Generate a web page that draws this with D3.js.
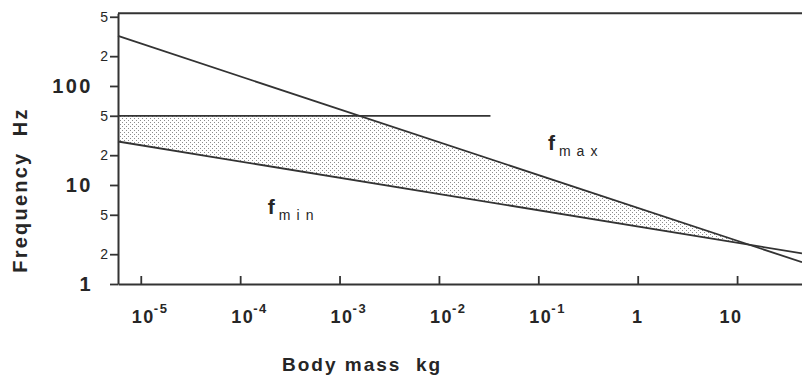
<!DOCTYPE html>
<html>
<head>
<meta charset="utf-8">
<script src="https://cdn.jsdelivr.net/npm/d3@7"></script>
<style>
  html, body { margin: 0; padding: 0; background: #ffffff; }
  svg { display: block; }
  text { font-family: "Liberation Sans", Arial, sans-serif; fill: #262626; }
</style>
</head>
<body>
<svg id="chart" width="802" height="377"></svg>
<script>
// ---- data ----
const massDomain = [5.9e-6, 45];          // kg
const freqDomain = [1, 542];              // Hz
const fmaxSeries = [[5.9e-6, 320], [45, 1.66]];
const fminSeries = [[5.9e-6, 27.5], [45, 2.04]];
const f50Series  = [[5.9e-6, 50], [0.033, 50]];

const xTickValues = [1e-5, 1e-4, 1e-3, 1e-2, 1e-1, 1, 10];
const xTickBase   = ["10", "10", "10", "10", "10", "1", "10"];
const xTickSup    = ["-5", "-4", "-3", "-2", "-1", "", ""];

const yTickValues = [1, 2, 5, 10, 20, 50, 100, 200, 500];
const yTickLabels = ["1", "2", "5", "10", "2", "5", "100", "2", "5"];
const yMajor      = [1, 10, 100];

const xTitle = "Body mass  kg";
const yTitle = "Frequency  Hz";
const labelMax = { base: "f", sub: "max", at: [0.125, 22.6] };
const labelMin = { base: "f", sub: "min", at: [1.9e-4, 5.1] };

// ---- scales ----
const x = d3.scaleLog().domain(massDomain).range([118, 802]);
const y = d3.scaleLog().domain(freqDomain).range([284, 13.3]);

const svg = d3.select("#chart");

// stipple pattern
const defs = svg.append("defs");
const pat = defs.append("pattern").attr("id", "dots")
  .attr("width", 4).attr("height", 4).attr("patternUnits", "userSpaceOnUse");
pat.append("rect").attr("x", 0).attr("y", 0).attr("width", 1).attr("height", 1).attr("fill", "#8c8c8c");
pat.append("rect").attr("x", 2).attr("y", 2).attr("width", 1).attr("height", 1).attr("fill", "#8c8c8c");

// helpers: straight line in log-log coordinates
function logLine(series) {
  const [[m0, f0], [m1, f1]] = series;
  const s = (Math.log10(f1) - Math.log10(f0)) / (Math.log10(m1) - Math.log10(m0));
  return {
    at: m => Math.pow(10, Math.log10(f0) + s * (Math.log10(m) - Math.log10(m0))),
    slope: s, m0, f0
  };
}
const Lmax = logLine(fmaxSeries), Lmin = logLine(fminSeries);
function massWhere(line, f) {
  return Math.pow(10, Math.log10(line.m0) + (Math.log10(f) - Math.log10(line.f0)) / line.slope);
}
const level = f50Series[0][1];
const mCross50 = massWhere(Lmax, level);
// intersection of fmax and fmin
const lm0 = Math.log10(Lmax.m0);
const dL = (Math.log10(Lmax.f0) - Math.log10(Lmin.f0)) / (Lmin.slope - Lmax.slope);
const mInter = Math.pow(10, lm0 + dL);

const mLeft = massDomain[0];
const shade = [
  [mLeft, level],
  [mCross50, level],
  [mInter, Lmax.at(mInter)],
  [mLeft, Lmin.at(mLeft)]
];
svg.append("path")
  .attr("d", d3.line().x(d => x(d[0])).y(d => y(d[1]))(shade) + "Z")
  .attr("fill", "url(#dots)").attr("stroke", "none");

// lines
const line = d3.line().x(d => x(d[0])).y(d => y(d[1]));
[fmaxSeries, fminSeries, f50Series].forEach(s => {
  svg.append("path").attr("d", line(s))
    .attr("fill", "none").attr("stroke", "#333").attr("stroke-width", 1.8);
});

// top frame
svg.append("line")
  .attr("x1", x(massDomain[0])).attr("x2", x(massDomain[1]))
  .attr("y1", y(freqDomain[1])).attr("y2", y(freqDomain[1]))
  .attr("stroke", "#333").attr("stroke-width", 2);

// y axis
const yAxis = svg.append("g").attr("transform", `translate(${x(massDomain[0])},0)`)
  .call(d3.axisLeft(y).tickValues(yTickValues).tickSizeInner(8).tickSizeOuter(0)
    .tickFormat((d, i) => yTickLabels[i]));
yAxis.select(".domain").attr("stroke", "#333").attr("stroke-width", 2);
yAxis.selectAll(".tick line").attr("stroke", "#333").attr("stroke-width", 1.8);
yAxis.selectAll(".tick text").each(function(d) {
  const t = d3.select(this);
  if (yMajor.includes(d)) {
    t.attr("x", -25).attr("font-size", 20).attr("font-weight", "bold")
     .attr("letter-spacing", 2.5).attr("fill", "#222");
  } else {
    t.attr("x", -10).attr("font-size", 14).attr("fill", "#333");
  }
  t.attr("font-family", null);
});

// x axis
const xAxis = svg.append("g").attr("transform", `translate(0,${y(freqDomain[0])})`)
  .call(d3.axisBottom(x).tickValues(xTickValues).tickSizeInner(-8).tickSizeOuter(0)
    .tickFormat(() => ""));
xAxis.select(".domain").attr("stroke", "#333").attr("stroke-width", 2);
xAxis.selectAll(".tick line").attr("stroke", "#333").attr("stroke-width", 1.8);
xAxis.selectAll(".tick text").remove();
xTickValues.forEach((v, i) => {
  const t = svg.append("text")
    .attr("y", 323).attr("font-weight", "bold").attr("font-size", 18)
    .attr("letter-spacing", 1.5);
  if (xTickSup[i]) {
    t.attr("x", x(v) - 9).attr("text-anchor", "start");
    t.append("tspan").text(xTickBase[i]);
    t.append("tspan").attr("dy", -10).attr("font-size", 13).attr("dx", -1).text(xTickSup[i]);
  } else {
    t.attr("x", x(v) - (xTickBase[i].length > 1 ? 6 : 0)).attr("text-anchor", "middle")
     .text(xTickBase[i]);
  }
});

// axis titles
svg.append("text")
  .attr("x", 282).attr("y", 371)
  .attr("font-weight", "bold").attr("font-size", 19).attr("letter-spacing", 2)
  .style("white-space", "pre").text(xTitle);
svg.append("text")
  .attr("transform", "translate(27,190) rotate(-90)")
  .attr("text-anchor", "middle")
  .attr("font-weight", "bold").attr("font-size", 20).attr("letter-spacing", 2.2)
  .style("white-space", "pre").text(yTitle);

// curve labels
[labelMax, labelMin].forEach(l => {
  const t = svg.append("text")
    .attr("x", x(l.at[0])).attr("y", y(l.at[1]));
  t.append("tspan").attr("font-weight", "bold").attr("font-size", 21).text(l.base);
  t.append("tspan").attr("dx", 4).attr("dy", 6).attr("font-size", 14)
    .attr("letter-spacing", 6).text(l.sub);
});
</script>
</body>
</html>
